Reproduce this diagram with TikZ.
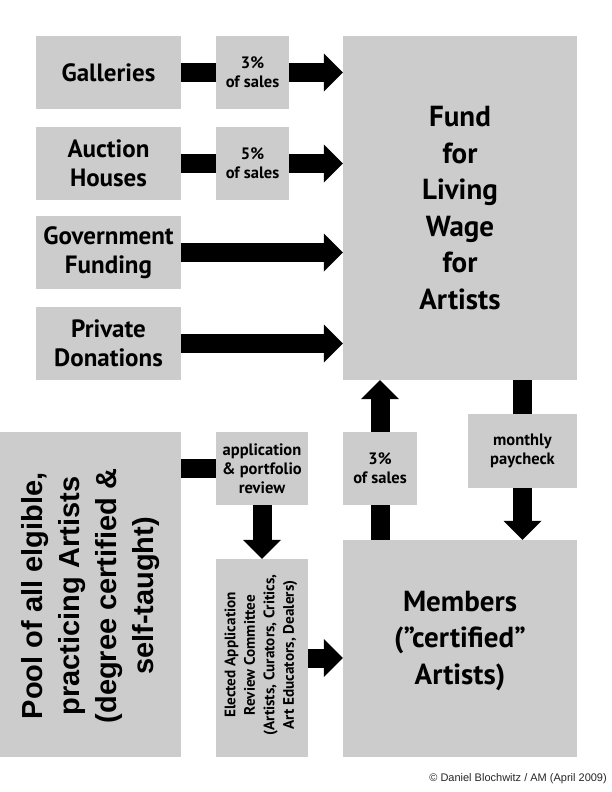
\documentclass[tikz,border=0pt]{standalone}
\usepackage{fontspec}
\usetikzlibrary{arrows.meta}
\newfontfamily\ptsans{PT Sans}
\newfontfamily\arialf{Liberation Sans}
\definecolor{boxgray}{RGB}{204,204,204}
\tikzset{
  box/.style={fill=boxgray, draw=none, inner sep=0pt, align=center, text=black},
  bigfont/.style={font={\ptsans\bfseries\fontsize{25}{29}\selectfont}},
  smallfont/.style={font={\ptsans\bfseries\fontsize{16.5}{19}\selectfont}},
  hugefont/.style={font={\ptsans\bfseries\fontsize{29}{36.5}\selectfont}},
  bar/.style={line width=19pt, draw=black},
  bigarrow/.style={line width=19pt, draw=black, -{Triangle[width=38pt,length=19pt,line width=0pt]}},
}
\begin{document}
\begin{tikzpicture}[x=1pt,y=-1pt]
\useasboundingbox (0,0) rectangle (612,792);
% left column
\node[box,bigfont,minimum width=145pt,minimum height=73pt] (gal) at (108.5,72.5) {Galleries};
\node[box,bigfont,minimum width=145pt,minimum height=73pt] (auc) at (108.5,163.5) {Auction\\Houses};
\node[box,bigfont,minimum width=145pt,minimum height=73pt] (gov) at (108.5,252.5) {Government\\Funding};
\node[box,bigfont,minimum width=145pt,minimum height=73pt] (priv) at (108.5,343.5) {Private\\Donations};
% percentage labels
\node[box,smallfont,minimum width=73pt,minimum height=73pt] (gal3) at (252.5,72.5) {3\%\\of sales};
\node[box,smallfont,minimum width=73pt,minimum height=73pt] (auc5) at (252.5,163.5) {5\%\\of sales};
% fund
\node[box,hugefont,minimum width=234pt,minimum height=344pt] (fund) at (460,208) {Fund\\for\\Living\\Wage\\for\\Artists};
% bottom part
\node[box,minimum width=181pt,minimum height=325pt] (pool) at (90.5,594.5) {};
\node[rotate=90,align=center,inner sep=0pt,font={\arialf\bfseries\fontsize{29}{37}\selectfont}] (pooltext) at (90.5,596) {Pool of all elgible,\\practicing Artists\\(degree certified \&\\self-taught)};
\node[box,smallfont,minimum width=92pt,minimum height=73pt] (app) at (262,468.5) {application\\\& portfolio\\review};
\node[box,minimum width=92pt,minimum height=198pt] (comm) at (262,658) {};
\node[rotate=90,align=center,inner sep=0pt,font={\ptsans\bfseries\fontsize{15.2}{19.5}\selectfont}] (commtext) at (261,655) {Elected Application\\Review Committee\\(Artists, Curators, Critics,\\Art Educators, Dealers)};
\node[box,smallfont,minimum width=74pt,minimum height=73pt] (sales3) at (380,468.5) {3\%\\of sales};
\node[box,smallfont,minimum width=109pt,minimum height=74pt] (monthly) at (522.5,451) {monthly\\paycheck};
\node[box,minimum width=234pt,minimum height=217pt] (mem) at (460,648.5) {};
\node[align=center,inner sep=0pt,hugefont] (memtext) at (460,641) {Members\\(”certified”\\Artists)};
% copyright
\node[anchor=east,inner sep=0pt,font={\arialf\fontsize{11}{13}\selectfont},text=black!85] (copy) at (607,779) {© Daniel Blochwitz / AM (April 2009)};
% connectors
\draw[bar] (gal.east) -- (gal3.west);
\draw[bigarrow] (gal3.east) -- (gal3.east -| fund.west);
\draw[bar] (auc.east) -- (auc5.west);
\draw[bigarrow] (auc5.east) -- (auc5.east -| fund.west);
\draw[bigarrow] (gov.east) -- (gov.east -| fund.west);
\draw[bigarrow] (priv.east) -- (priv.east -| fund.west);
\draw[bar] (app.west -| pool.east) -- (app.west);
\draw[bigarrow] (app.south) -- (comm.north);
\draw[bigarrow] (comm.east) -- (comm.east -| mem.west);
\draw[bar] (sales3.south |- mem.north) -- (sales3.south);
\draw[bigarrow] (sales3.north) -- (sales3.north |- fund.south);
\draw[bar] (monthly.north |- fund.south) -- (monthly.north);
\draw[bigarrow] (monthly.south) -- (monthly.south |- mem.north);
\end{tikzpicture}
\end{document}
